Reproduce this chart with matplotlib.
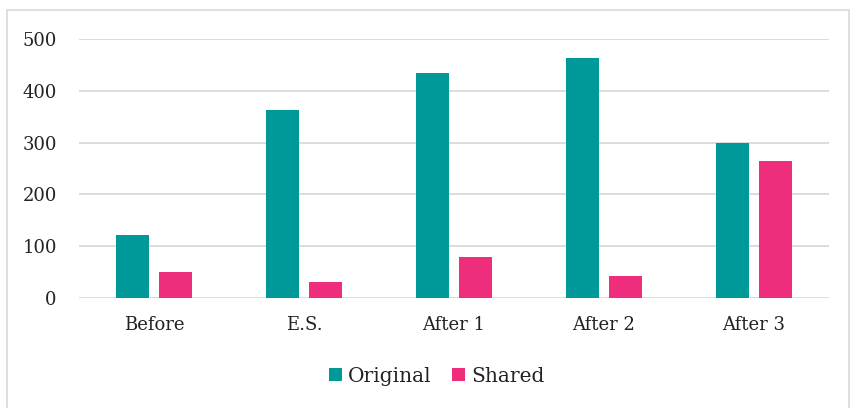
import matplotlib.pyplot as plt
import numpy as np
from matplotlib.patches import Rectangle

categories = ['Before', 'E.S.', 'After 1', 'After 2', 'After 3']
original = [121, 362, 434, 463, 299]
shared = [50, 31, 79, 42, 264]
yticks = [0, 100, 200, 300, 400, 500]

teal = '#009999'
pink = '#ef2d7d'
grid = '#d9d9d9'

plt.rcParams['font.family'] = ['DejaVu Serif']

fig = plt.figure(figsize=(8.51, 4.08), dpi=100)
ax = fig.add_axes([0.0928, 0.2696, 0.8812, 0.6348])

x = np.arange(len(categories))
w = 0.22
ax.bar(x - 0.143, original, w, color=teal, label='Original', zorder=3)
ax.bar(x + 0.143, shared, w, color=pink, label='Shared', zorder=3)

ax.set_xlim(-0.5, len(categories) - 0.5)
ax.set_ylim(0, 500)
ax.set_yticks(yticks)
ax.set_xticks(x)
ax.set_xticklabels(categories)
ax.tick_params(length=0, labelsize=13, colors='#222222')
ax.tick_params(axis='x', pad=13)
ax.tick_params(axis='y', pad=16)
ax.grid(axis='y', color=grid, linewidth=1.3, zorder=0)
for s in ax.spines.values():
    s.set_visible(False)

leg = fig.legend(loc='center', bbox_to_anchor=(0.513, 0.078), ncol=2, frameon=False,
                 fontsize=14.5, handlelength=0.65, handleheight=0.65,
                 handletextpad=0.3, columnspacing=1.0, labelcolor='#222222')

# outer chart frame
fig.patches.append(Rectangle((7 / 851, -0.05), 842 / 851, 1 - 10 / 408 + 0.05,
                             transform=fig.transFigure, fill=False,
                             edgecolor=grid, linewidth=1.2))

fig.savefig('out.png', dpi=100)
